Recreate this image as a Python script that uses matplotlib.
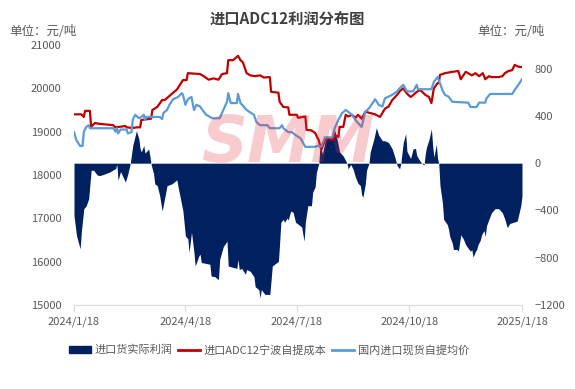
import matplotlib
matplotlib.use('Agg')
import matplotlib.pyplot as plt
import pandas as pd
from matplotlib.patches import Patch
from matplotlib.lines import Line2D

plt.rcParams['font.family'] = ['Noto Sans CJK SC', 'DejaVu Sans']

start = pd.Timestamp('2024-01-18')

# 进口ADC12宁波自提成本 (days from start, 元/吨)
cost_days = [0, 6, 8, 9, 13, 14, 17, 21, 32, 34, 42, 43, 48, 51, 54, 55, 63, 64, 68, 72,
             74, 77, 81, 84, 89, 92, 93, 103, 106, 110, 114, 118, 121, 125, 126, 130, 134, 136, 138, 141,
             144, 148, 152, 155, 160, 161, 167, 168, 171, 175, 176, 182, 183, 189, 190, 194, 197, 200, 202, 205,
             208, 211, 213, 216, 217, 220, 222, 224, 227, 230, 232, 235, 238, 242, 246, 250, 254, 257, 260, 264,
             266, 269, 272, 275, 277, 280, 283, 287, 290, 292, 294, 297, 298, 299, 303, 309, 314, 316, 320, 322,
             325, 328, 331, 334, 336, 339, 341, 347, 350, 352, 355, 358, 360, 363, 366]
cost_vals = [19400, 19400, 19340, 19480, 19480, 19110, 19200, 19180, 19150, 19100, 19130, 19100, 19085, 19100, 19100, 19270, 19300, 19500, 19570, 19730,
             19730, 19800, 19900, 19970, 20190, 20190, 20350, 20330, 20280, 20200, 20230, 20200, 20330, 20350, 20650, 20650, 20750, 20650, 20600, 20350,
             20300, 20280, 20300, 20250, 20260, 19920, 19900, 19690, 19570, 19560, 19390, 19390, 19320, 19350, 19040, 19030, 18970, 18800, 18580, 18800,
             18850, 18800, 18920, 18880, 19110, 19110, 19390, 19350, 19390, 19320, 19390, 19300, 19460, 19430, 19400, 19340, 19530, 19580, 19730, 19850,
             19930, 20000, 19880, 19800, 19840, 19920, 19960, 19850, 19800, 19660, 20000, 20120, 20120, 20310, 20350, 20380, 20400, 20210, 20380, 20350,
             20300, 20350, 20280, 20350, 20210, 20280, 20260, 20260, 20280, 20350, 20400, 20420, 20540, 20500, 20490]

# 国内进口现货自提均价
spot_days = [0, 2, 5, 7, 8, 10, 12, 13, 32, 34, 35, 36, 38, 43, 44, 47, 48, 50, 53, 55,
             57, 58, 59, 70, 72, 73, 76, 78, 81, 85, 88, 89, 91, 93, 96, 98, 100, 103, 106, 108,
             113, 119, 122, 125, 126, 128, 133, 134, 136, 138, 141, 147, 149, 152, 158, 160, 168, 170, 171, 175,
             178, 181, 185, 189, 197, 200, 202, 205, 211, 213, 216, 219, 222, 224, 227, 230, 232, 235, 238, 241,
             243, 246, 249, 252, 254, 257, 260, 264, 266, 269, 272, 277, 280, 281, 292, 294, 297, 299, 301, 303,
             306, 309, 322, 324, 329, 331, 336, 337, 340, 358, 360, 363, 366]
spot_vals = [18990, 18800, 18670, 18670, 18990, 19110, 19150, 19080, 19080, 19000, 19080, 18960, 19050, 19050, 18960, 18990, 19270, 19390, 19310, 19340,
             19390, 19270, 19340, 19340, 19290, 19430, 19500, 19620, 19750, 19800, 19890, 19850, 19620, 19750, 19800, 19500, 19620, 19580, 19460, 19390,
             19310, 19310, 19500, 19690, 19890, 19660, 19660, 19870, 19660, 19600, 19500, 19390, 19220, 19150, 19150, 19080, 19080, 19150, 19080, 18990,
             18990, 18920, 18850, 18650, 18650, 18680, 18650, 18870, 18870, 19080, 19270, 19430, 19500, 19460, 19390, 19270, 19200, 19110, 19460, 19540,
             19620, 19750, 19620, 19580, 19770, 19810, 19850, 19930, 20000, 20080, 19930, 19930, 20080, 19980, 19980, 20150, 20260, 20120, 19960, 19850,
             19810, 19690, 19670, 19570, 19570, 19670, 19670, 19770, 19870, 19870, 19960, 20080, 20210]

# 进口货实际利润 (right axis)
profit_days = [0, 2, 5, 6, 8, 10, 12, 14, 16, 19, 21, 24, 29, 34, 35, 36, 38, 42, 44, 46,
               48, 51, 53, 54, 55, 57, 58, 61, 62, 63, 65, 66, 68, 70, 72, 74, 76, 80, 83, 84,
               85, 87, 89, 91, 93, 94, 96, 98, 99, 102, 103, 104, 111, 112, 115, 118, 119, 122, 125, 126,
               133, 134, 135, 137, 140, 141, 144, 147, 148, 151, 152, 153, 156, 160, 162, 167, 168, 169, 171, 172,
               174, 175, 177, 179, 181, 183, 186, 188, 189, 191, 194, 195, 197, 198, 200, 201, 203, 205, 207, 209,
               212, 213, 215, 217, 220, 223, 224, 226, 228, 230, 232, 234, 235, 236, 238, 239, 241, 242, 245, 247,
               249, 252, 254, 257, 260, 262, 264, 266, 267, 269, 271, 272, 275, 277, 279, 280, 282, 284, 286, 287,
               288, 290, 292, 293, 294, 296, 297, 298, 299, 301, 302, 305, 306, 307, 309, 310, 313, 314, 316, 318,
               320, 322, 324, 325, 326, 328, 329, 330, 332, 333, 335, 336, 337, 339, 341, 344, 347, 350, 352, 354,
               356, 359, 362, 363, 365, 366]
profit_vals = [-444, -610, -725, -580, -385, -360, -300, -60, -60, -100, -105, -95, -75, -45, -10, -145, -70, -160, -90, 0,
               150, 275, 205, 123, 95, 150, 85, 120, 60, -10, -90, -175, -190, -275, -405, -300, -190, -175, -150, -140,
               -200, -300, -405, -615, -640, -755, -585, -755, -870, -785, -770, -840, -855, -955, -960, -985, -815, -705, -660, -870,
               -890, -815, -900, -890, -940, -900, -915, -960, -1045, -1070, -1140, -1070, -1110, -1110, -870, -830, -675, -500, -475, -500,
               -465, -480, -405, -415, -500, -515, -540, -660, -500, -360, -360, -245, -200, -80, 0, 150, 80, 180, 230, 200,
               250, 280, 200, 95, 60, 0, -48, -10, -50, -120, -170, -190, -265, -290, -175, -60, 0, 95, 205, 300,
               235, 190, 190, 175, 120, 55, -20, -48, 0, 175, 250, 100, 40, 120, 125, 65, 30, 0, -15, 80,
               135, 200, 290, 150, 50, 160, 40, 0, -190, -335, -475, -520, -560, -620, -675, -730, -730, -745, -605, -640,
               -690, -720, -745, -730, -795, -745, -730, -690, -650, -605, -570, -620, -530, -475, -420, -385, -385, -420, -475, -545,
               -510, -500, -490, -450, -360, -280]

tick_dates = ['2024-01-18', '2024-04-18', '2024-07-18', '2024-10-18', '2025-01-18']
tick_labels = ['2024/1/18', '2024/4/18', '2024/7/18', '2024/10/18', '2025/1/18']

cost_x = start + pd.to_timedelta(cost_days, unit='D')
spot_x = start + pd.to_timedelta(spot_days, unit='D')
profit_x = start + pd.to_timedelta(profit_days, unit='D')

navy, red, blue, grey = '#002060', '#C00000', '#5B9BD5', '#595959'

fig = plt.figure(figsize=(5.75, 3.89), dpi=100)
ax = fig.add_axes([0.1287, 0.2159, 0.7791, 0.6684])
ax2 = ax.twinx()

ax2.fill_between(profit_x, 0, profit_vals, color=navy, linewidth=0)
ax.plot(cost_x, cost_vals, color=red, lw=1.6)
ax.plot(spot_x, spot_vals, color=blue, lw=1.6)

# lines above the area
ax.set_zorder(ax2.get_zorder() + 1)
ax.patch.set_visible(False)

ax.set_xlim(pd.Timestamp('2024-01-18'), pd.Timestamp('2025-01-18'))
ax.set_ylim(15000, 21000)
ax.set_yticks(range(15000, 21001, 1000))
ax2.set_ylim(-1200, 1000)
ax2.set_yticks(range(-1200, 801, 400))
ax.set_xticks(pd.to_datetime(tick_dates))
ax.set_xticklabels(tick_labels)

for a in (ax, ax2):
    for s in ('top', 'left', 'right'):
        a.spines[s].set_visible(False)
    a.spines['bottom'].set_color('#d9d9d9')
ax2.spines['bottom'].set_visible(False)
ax.tick_params(axis='y', length=0, pad=9, labelsize=8, labelcolor=grey)
ax2.tick_params(axis='y', length=0, pad=9, labelsize=8, labelcolor=grey)
ax.tick_params(axis='x', length=5, color='#d9d9d9', pad=3, labelsize=8, labelcolor=grey)

fig.text(0.5, 0.952, '进口ADC12利润分布图', ha='center', va='center', fontsize=11,
         fontweight='bold', color='#404040')
fig.text(0.017, 0.918, '单位：元/吨', ha='left', va='center', fontsize=9, color=grey)
fig.text(0.948, 0.918, '单位：元/吨', ha='right', va='center', fontsize=9, color=grey)

# watermark
fig.text(0.50, 0.63, 'SMM', ha='center', va='center', fontsize=46, fontweight='heavy',
         fontstyle='italic', family='DejaVu Sans', color='#e63040', alpha=0.25, zorder=10)

handles = [Patch(color=navy), Line2D([], [], color=red, lw=2), Line2D([], [], color=blue, lw=2)]
labels = ['进口货实际利润', '进口ADC12宁波自提成本', '国内进口现货自提均价']
fig.legend(handles, labels, loc='center', bbox_to_anchor=(0.468, 0.1), ncol=3, frameon=False,
           fontsize=8, labelcolor=grey, handlelength=2.0, handleheight=0.5,
           handletextpad=0.3, columnspacing=0.5)

fig.savefig('out.png', dpi=100)
